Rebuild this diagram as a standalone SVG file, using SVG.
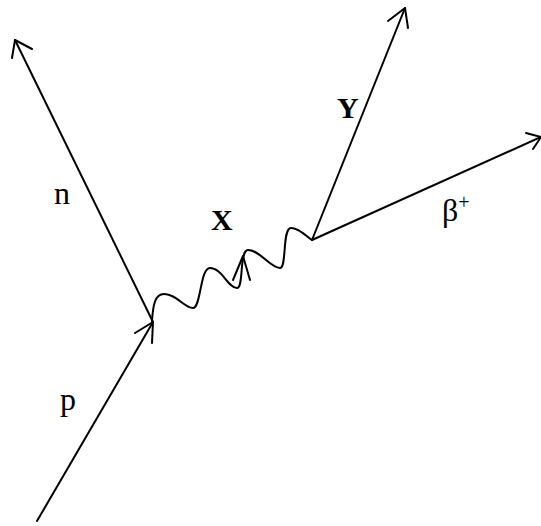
<svg xmlns="http://www.w3.org/2000/svg" width="541" height="526" viewBox="0 0 541 526">
<style>
.l{fill:none;stroke:#000;stroke-width:2;stroke-linecap:round;stroke-linejoin:round}
.t{font-family:"Liberation Serif","Times New Roman",serif;fill:#000}
.b{font-weight:bold}
</style>
<rect width="541" height="526" fill="#fff"/>
<g id="connectors">
<g id="p-line"><path class="l" d="M37,521 L153,322"/><path class="l" d="M135,333 L153,322 L152,343"/></g>
<g id="n-line"><path class="l" d="M153,322 L15,40"/><path class="l" d="M12,58 L15,40 L32,49"/></g>
<g id="x-wave"><path class="l" d="M152,321 C153,305 155,294 164,294 C177,294 184,308 193,308 C201,308 200,268 210,268 C222,268 228,288 237,288 C244,288 239,250 248,250 C260,250 270,268 280,268 C287,268 282,228 291,228 C299,228 306,236 312,240"/><path class="l" d="M233,280 L243,256 L250,280"/></g>
<g id="y-line"><path class="l" d="M312,240 L405,8"/><path class="l" d="M388,21 L405,8 L408,28"/></g>
<g id="beta-line"><path class="l" d="M312,240 L541,137"/><path class="l" d="M526,133 L541,137 L533,149"/></g>
</g>
<g id="label-n"><text class="t" x="54" y="204" font-size="32">n</text></g>
<g id="label-p"><text class="t" x="60" y="410" font-size="32">p</text></g>
<g id="label-x"><text class="t b" x="211" y="230" font-size="30">X</text></g>
<g id="label-y"><text class="t b" x="337" y="118" font-size="30">Y</text></g>
<g id="label-beta"><text class="t" x="442" y="221" font-size="32">β<tspan font-size="20" dy="-12">+</tspan></text></g>
</svg>
